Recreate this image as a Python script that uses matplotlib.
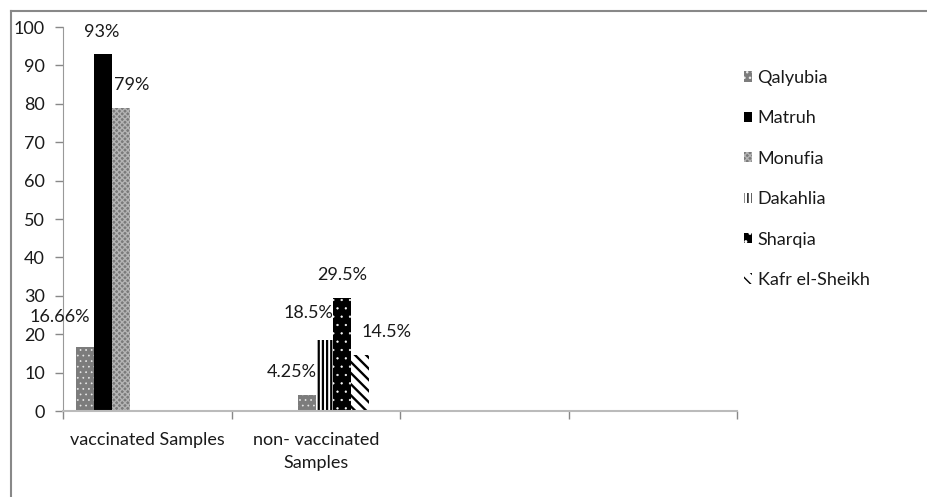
import numpy as np
import matplotlib
matplotlib.use('Agg')
import matplotlib.pyplot as plt
from matplotlib.lines import Line2D

plt.rcParams['font.family'] = ['Lato', 'DejaVu Sans']

# data
categories = ['vaccinated Samples', 'non- vaccinated\nSamples', '', '']
series_names = ['Qalyubia', 'Matruh', 'Monufia', 'Dakahlia', 'Sharqia', 'Kafr el-Sheikh']
# (category index, slot index, value) for every bar of each series
bars_cat = [[0, 1], [0], [0], [1], [1], [1]]
bars_slot = [[0, 3], [1], [2], [4], [5], [6]]
bars_val = [[16.66, 4.25], [93], [79], [18.5], [29.5], [14.5]]
bars_lab = [['16.66%', '4.25%'], ['93%'], ['79%'], ['18.5%'], ['29.5%'], ['14.5%']]
# label offsets (px) from bar top
lab_off = [[(-25, 30), (-15, 23)], [(-1, 22)], [(11, 23)], [(-16, 27)], [(0, 23)], [(26, 23)]]

# fill styles per series
face = ['#7c7c7c', 'black', '#7a7a7a', 'white', 'black', 'white']
edge = ['#e8e8e8', 'black', '#b4b4b4', 'black', 'white', 'black']
hatch = ['...', None, 'xxxxxx', '||||', '..', '\\\\\\']
hatch_lw = [0.5, 1.0, 1.0, 1.6, 0.4, 1.7]

n_slots = 8
w = 1.0 / (n_slots + 1.5)
fs = 13

W, H = 927, 497
fig = plt.figure(figsize=(W/100, H/100), dpi=100)
ax = fig.add_axes([63/W, 1-411/H, (737-63)/W, (411-27)/H])

handles = []
for s in range(len(series_names)):
	for k in range(len(bars_val[s])):
		c = bars_cat[s][k]
		x = c - 0.5 + 0.75*w + bars_slot[s][k]*w + w/2
		with plt.rc_context({'hatch.linewidth': hatch_lw[s]}):
			b = ax.bar(x, bars_val[s][k], width=w, color=face[s], edgecolor=edge[s],
				hatch=hatch[s], linewidth=0)
		ax.annotate(bars_lab[s][k], (x, bars_val[s][k]), xytext=(lab_off[s][k][0]*0.72, lab_off[s][k][1]*0.72),
			textcoords='offset points', ha='center', va='center', fontsize=fs, color='#1a1a1a')
		if k == 0:
			handles.append(b)

ax.set_xlim(-0.5, 3.5)
ax.set_ylim(0, 100)
ax.set_yticks(np.arange(0, 101, 10))
ax.set_xticks(np.arange(-0.5, 3.6, 1))
ax.set_xticklabels([])
ax.set_xticks(np.arange(4), minor=True)
ax.set_xticklabels(categories, minor=True, fontsize=fs, color='#1a1a1a', linespacing=1.55)
ax.tick_params(axis='x', which='minor', length=0, pad=15)
ax.tick_params(axis='x', which='major', length=6, color='#888888', width=1)
ax.tick_params(axis='y', length=6, color='#888888', width=1, labelsize=fs, labelcolor='#1a1a1a', pad=7)

for sp in ['top', 'right']:
	ax.spines[sp].set_visible(False)
ax.spines['left'].set_color('#999999')
ax.spines['bottom'].set_color('#bbbbbb')
ax.spines['bottom'].set_linewidth(1.5)

leg = fig.legend(handles, series_names, loc='upper left', bbox_to_anchor=(744/W, 1-70/H),
	frameon=False, fontsize=fs, handlelength=0.45, handleheight=0.5, handletextpad=0.3,
	labelspacing=1.35, borderpad=0, borderaxespad=0)
for t in leg.get_texts():
	t.set_color('#1a1a1a')

# outer chart frame
fig.add_artist(Line2D([11/W, 11/W], [0, 1-11/H], transform=fig.transFigure, color='#888888', lw=1.5))
fig.add_artist(Line2D([11/W, 1], [1-11/H, 1-11/H], transform=fig.transFigure, color='#888888', lw=1.5))

fig.savefig('out.png', dpi=100)
